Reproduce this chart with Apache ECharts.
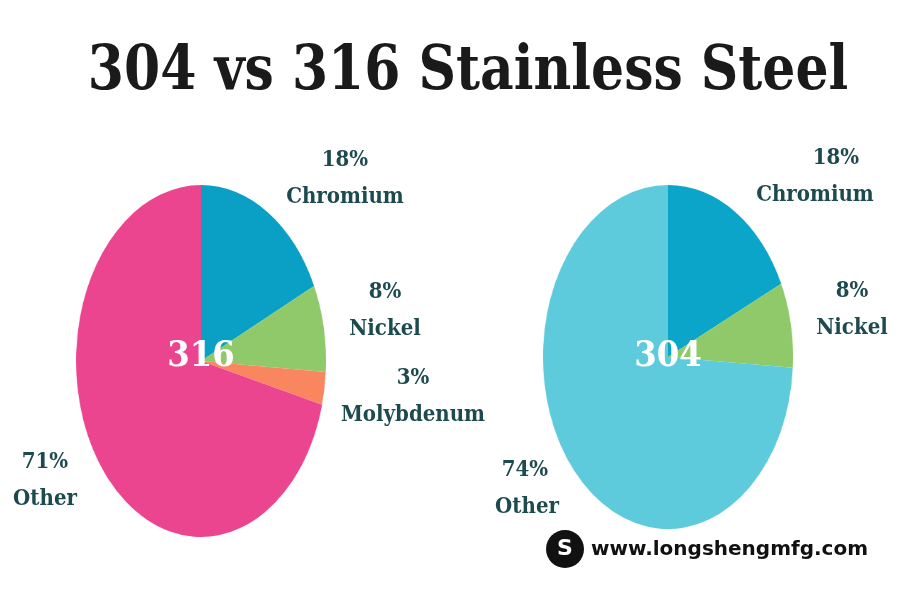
<!DOCTYPE html>
<html><head><meta charset="utf-8">
<script src="https://cdn.jsdelivr.net/npm/echarts@6/dist/echarts.min.js"></script>
<style>
body{margin:0;background:#fff}
#wrap{position:relative;width:900px;height:600px;overflow:hidden;background:#fff}
.pie{position:absolute;transform-origin:50% 50%}
#over{position:absolute;left:0;top:0;width:900px;height:600px}
</style></head><body>
<div id="wrap">
<div id="p316" class="pie" style="left:25px;top:185px;width:352px;height:352px;transform:scaleX(0.71)"></div>
<div id="p304" class="pie" style="left:496px;top:185px;width:344px;height:344px;transform:scaleX(0.727)"></div>
<div id="over"></div>
</div>
<script>
const title = '304 vs 316 Stainless Steel';
const names316 = ['Chromium','Nickel','Molybdenum','Other'];
const values316 = [18, 8, 3, 71];
const colors316 = ['#0aa0c6','#8fc96a','#fa8660','#ec4590'];
const names304 = ['Chromium','Nickel','Other'];
const values304 = [18, 8, 74];
const colors304 = ['#0aa5c8','#8fc96a','#5ecbdc'];
const labelPos316 = [[345,160],[385,292],[413,378],[45,462]];
const labelPos304 = [[815,158],[852,291],[527,470]];
const valuePos304x = [836,852,525];

function pie(id, names, values, colors){
  const c = echarts.init(document.getElementById(id));
  c.setOption({animation:false,series:[{type:'pie',radius:['0%','100%'],center:['50%','50%'],
    startAngle:90,clockwise:true,label:{show:false},labelLine:{show:false},
    data:names.map((n,i)=>({name:n,value:values[i],itemStyle:{color:colors[i]}}))}]});
}
pie('p316', names316, values316, colors316);
pie('p304', names304, values304, colors304);

const F = 'bold 22px "DejaVu Serif Condensed", "DejaVu Serif"';
const txtColor = '#1d4a4f';
const g = [];
g.push({type:'text',x:468,y:73,scaleX:1.07,scaleY:1.15,style:{text:title,font:'bold 54px "DejaVu Serif Condensed","DejaVu Serif"',fill:'#1a1a1a',align:'center',verticalAlign:'middle'}});
function labels(names, values, pos, vx){
  names.forEach((n,i)=>{
    const [x,y]=pos[i];
    g.push({type:'text',x:vx?vx[i]:x,y:y,style:{text:values[i]+'%',font:F,fill:txtColor,align:'center',verticalAlign:'middle'}});
    g.push({type:'text',x:x,y:y+37,style:{text:n,font:F,fill:txtColor,align:'center',verticalAlign:'middle'}});
  });
}
labels(names316, values316, labelPos316);
labels(names304, values304, labelPos304, valuePos304x);
g.push({type:'text',x:201,y:357,style:{text:'316',font:'bold 36px "DejaVu Serif Condensed","DejaVu Serif"',fill:'#fff',align:'center',verticalAlign:'middle'}});
g.push({type:'text',x:668,y:357,style:{text:'304',font:'bold 36px "DejaVu Serif Condensed","DejaVu Serif"',fill:'#fff',align:'center',verticalAlign:'middle'}});
// watermark
g.push({type:'circle',shape:{cx:565,cy:549,r:19},style:{fill:'#111'}});
g.push({type:'text',x:565,y:549,style:{text:'S',font:'bold 22px "DejaVu Sans"',fill:'#fff',align:'center',verticalAlign:'middle'}});
g.push({type:'text',x:591,y:550,style:{text:'www.longshengmfg.com',font:'bold 20px "DejaVu Sans"',fill:'#111',verticalAlign:'middle'}});
const o = echarts.init(document.getElementById('over'));
o.setOption({animation:false,graphic:g});
</script>
</body></html>
